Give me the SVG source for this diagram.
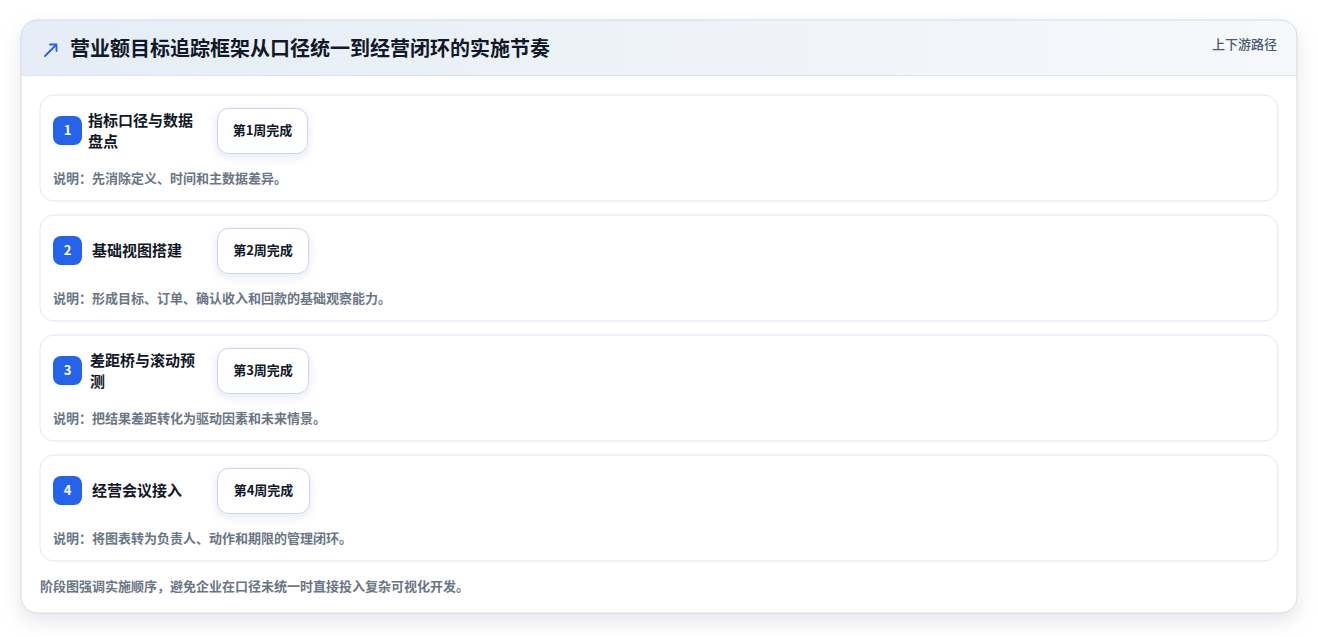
<svg xmlns="http://www.w3.org/2000/svg" width="1318" height="636" viewBox="0 0 1318 636">
<defs>
<linearGradient id="hdr" x1="0" y1="0" x2="1" y2="0">
<stop offset="0" stop-color="#e6edf6"/>
<stop offset="1" stop-color="#f6f8fb"/>
</linearGradient>
<filter id="sh" x="-5%" y="-10%" width="110%" height="125%">
<feDropShadow dx="0" dy="8" stdDeviation="10" flood-color="#0f172a" flood-opacity="0.10"/>
</filter>
<filter id="csh" x="-30%" y="-30%" width="160%" height="180%">
<feDropShadow dx="0" dy="3" stdDeviation="4" flood-color="#1e3a8a" flood-opacity="0.10"/>
</filter>
<clipPath id="cardclip"><rect x="21" y="20" width="1276" height="593" rx="16"/></clipPath>
<style>
text{font-family:"Noto Sans CJK SC","Noto Sans",sans-serif}
.title{font-size:20px;font-weight:700;fill:#111827}
.meta{font-size:13px;font-weight:500;fill:#4b5a6e}
.stage{fill:#ffffff;stroke:#dde7f3;stroke-width:1}
.badge{fill:#2563eb}
.num{font-size:13px;font-weight:700;fill:#ffffff;text-anchor:middle}
.st{font-size:15px;font-weight:700;fill:#111827}
.chip{fill:#ffffff;stroke:#c6d6ec;stroke-width:1}
.ct{font-size:13px;font-weight:700;fill:#111827;text-anchor:middle}
.desc{font-size:13px;font-weight:600;fill:#6b7684}
.foot{font-size:13px;font-weight:600;fill:#6b7684}
</style>
</defs>
<rect width="1318" height="636" fill="#ffffff"/>
<g id="card">
<rect x="21" y="20" width="1276" height="593" rx="16" fill="#ffffff" filter="url(#sh)"/>
<g clip-path="url(#cardclip)">
<rect x="21" y="20" width="1276" height="55" fill="url(#hdr)"/>
<line x1="21" y1="75.5" x2="1297" y2="75.5" stroke="#dbe5f1"/>
</g>
<rect x="21" y="20" width="1276" height="593" rx="16" fill="none" stroke="#d3dbe6"/>
<path d="M45 56 L56 45 M50 44.5 L56.5 44.5 L56.5 51" fill="none" stroke="#2563eb" stroke-width="1.8" stroke-linecap="round"/>
<text class="title" x="70" y="56">营业额目标追踪框架从口径统一到经营闭环的实施节奏</text>
<text class="meta" x="1277" y="49" text-anchor="end">上下游路径</text>
</g>
<g id="stage1">
<rect class="stage" x="40" y="95" width="1238" height="106" rx="14"/>
<rect class="badge" x="53" y="116" width="29" height="29" rx="8"/>
<text class="num" x="67.5" y="135">1</text>
<text class="st" x="88" y="126">指标口径与数据</text>
<text class="st" x="88" y="147">盘点</text>
<rect class="chip" x="217.5" y="108.5" width="90" height="45" rx="11" filter="url(#csh)"/>
<text class="ct" x="262.5" y="135">第1周完成</text>
<text class="desc" x="53" y="183">说明：先消除定义、时间和主数据差异。</text>
</g>
<g id="stage2">
<rect class="stage" x="40" y="215" width="1238" height="106" rx="14"/>
<rect class="badge" x="53" y="236" width="29" height="29" rx="8"/>
<text class="num" x="67.5" y="255">2</text>
<text class="st" x="92" y="256">基础视图搭建</text>
<rect class="chip" x="217.5" y="228.5" width="91" height="45" rx="11" filter="url(#csh)"/>
<text class="ct" x="263" y="255">第2周完成</text>
<text class="desc" x="53" y="303">说明：形成目标、订单、确认收入和回款的基础观察能力。</text>
</g>
<g id="stage3">
<rect class="stage" x="40" y="335" width="1238" height="106" rx="14"/>
<rect class="badge" x="53" y="356" width="29" height="29" rx="8"/>
<text class="num" x="67.5" y="375">3</text>
<text class="st" x="90" y="366">差距桥与滚动预</text>
<text class="st" x="90" y="387">测</text>
<rect class="chip" x="217.5" y="348.5" width="91" height="45" rx="11" filter="url(#csh)"/>
<text class="ct" x="263" y="375">第3周完成</text>
<text class="desc" x="53" y="423">说明：把结果差距转化为驱动因素和未来情景。</text>
</g>
<g id="stage4">
<rect class="stage" x="40" y="455" width="1238" height="106" rx="14"/>
<rect class="badge" x="53" y="476" width="29" height="29" rx="8"/>
<text class="num" x="67.5" y="495">4</text>
<text class="st" x="92" y="496">经营会议接入</text>
<rect class="chip" x="217.5" y="468.5" width="92" height="45" rx="11" filter="url(#csh)"/>
<text class="ct" x="263.5" y="495">第4周完成</text>
<text class="desc" x="53" y="543">说明：将图表转为负责人、动作和期限的管理闭环。</text>
</g>
<g id="connectors"></g>
<text class="foot" x="40" y="591">阶段图强调实施顺序，避免企业在口径未统一时直接投入复杂可视化开发。</text>
</svg>
